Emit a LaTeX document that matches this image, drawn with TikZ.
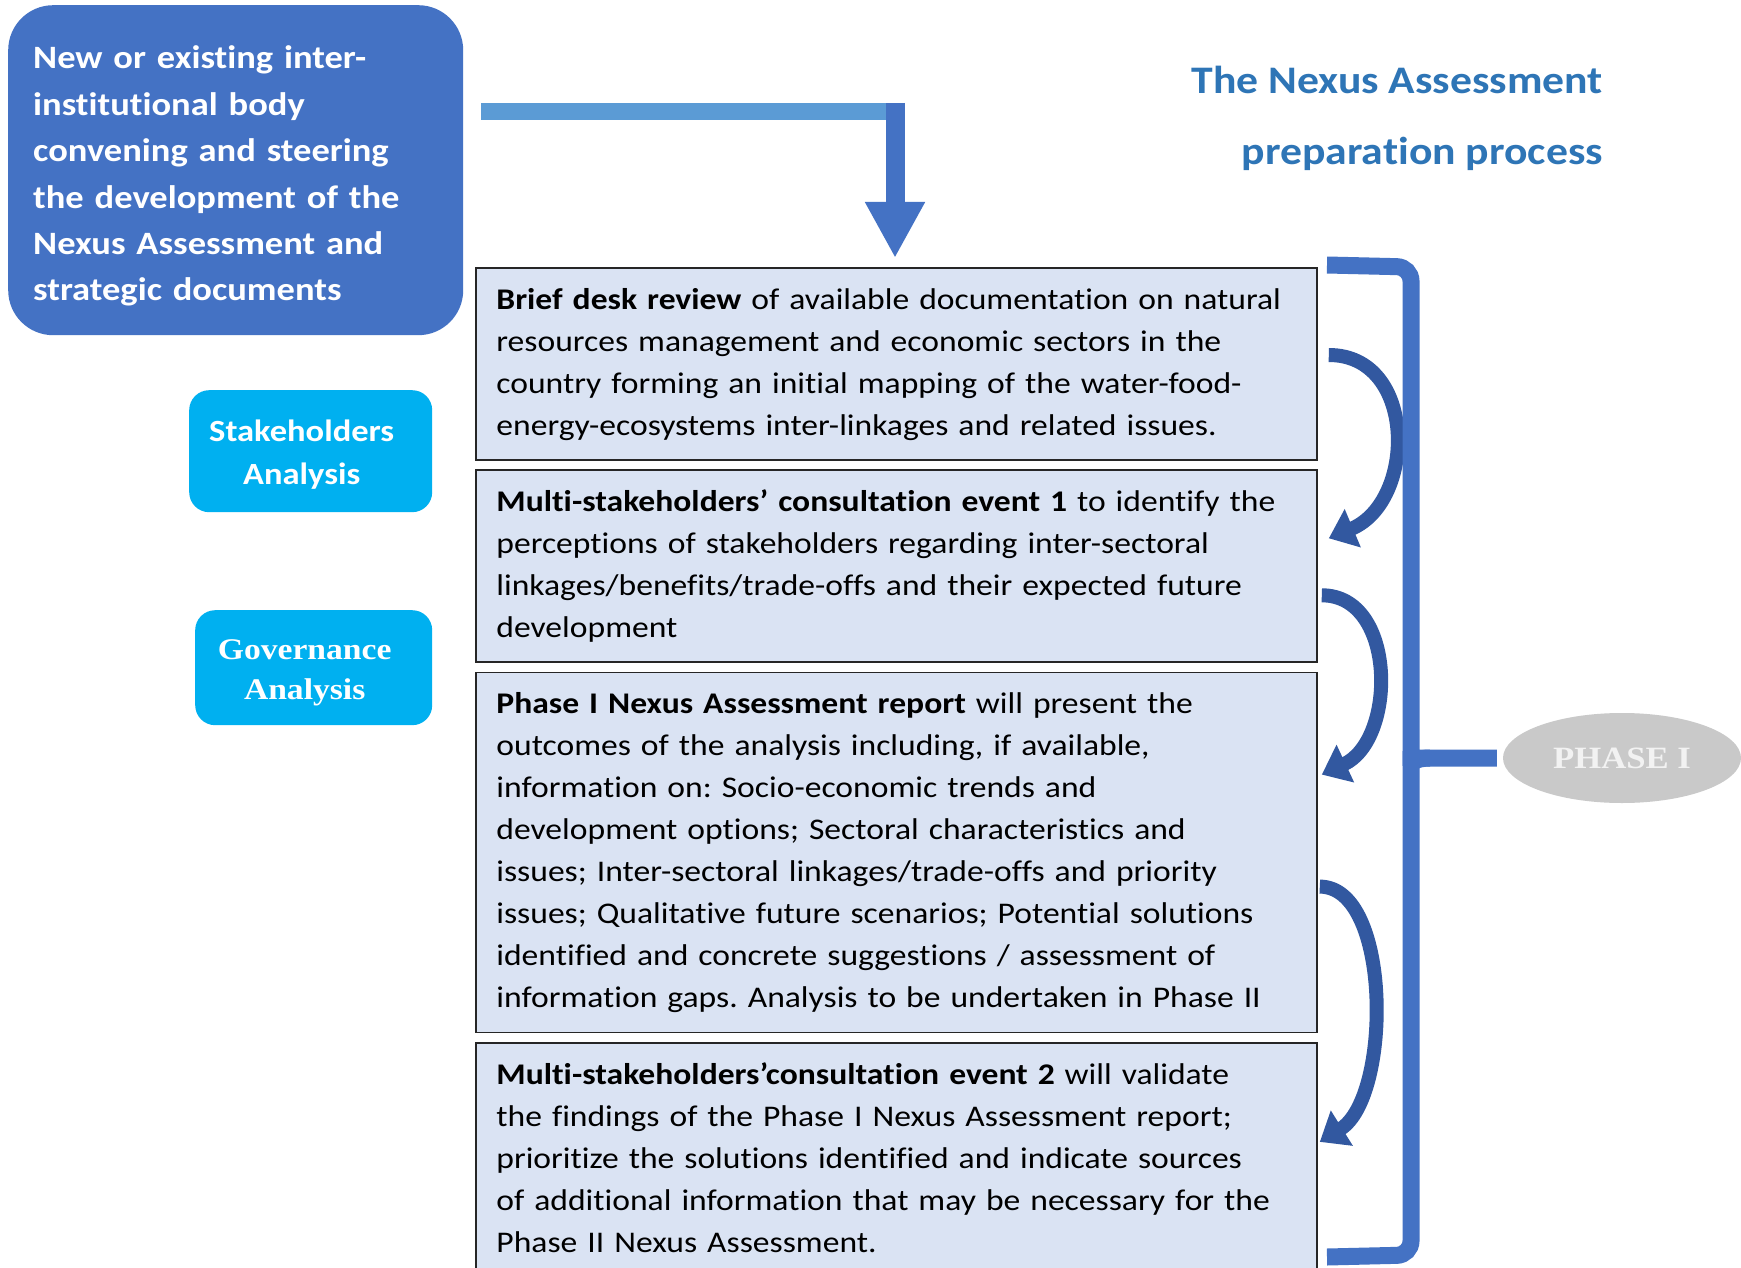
\documentclass[tikz,border=0pt]{standalone}
\usepackage{fontspec}
\setmainfont{Carlito}[FakeStretch=1.12, Ligatures=NoCommon]
\newfontfamily\govfont{Liberation Serif}[FakeStretch=1.12]
\usetikzlibrary{positioning,shapes.geometric,arrows.meta,calc}
\definecolor{instblue}{RGB}{68,114,196}
\definecolor{feedblue}{RGB}{91,155,213}
\definecolor{loopblue}{RGB}{50,88,160}
\definecolor{skyblue}{RGB}{0,176,240}
\definecolor{boxfill}{RGB}{218,227,243}
\definecolor{titleblue}{RGB}{46,117,182}
\definecolor{phasegrey}{RGB}{201,201,201}
\frenchspacing
\begin{document}
\begin{tikzpicture}[x=1pt,y=-1pt]
      \tikzset{instbox/.style={fill=instblue, rounded corners=45pt, text=white, anchor=north west, align=left,
          text width=405pt, inner xsep=25pt, inner ysep=0pt, minimum height=330pt,
          font=\bfseries\fontsize{32.6}{46.4}\selectfont, execute at begin node={\rule{0pt}{43.5pt}}, execute at end node=\strut},
        analysisbox/.style={fill=skyblue, rounded corners=20pt, anchor=north west, inner sep=0pt},
        analysistext/.style={text=white, align=center, inner sep=0pt},
        stepbox/.style={draw=black!85, line width=1.8pt, fill=boxfill, anchor=north west, align=left,
          text width=800pt, inner xsep=20.5pt, inner ysep=12pt,
          font=\fontsize{30}{42}\selectfont, execute at begin node=\strut, execute at end node=\strut},
        titletext/.style={anchor=north east, align=right, inner sep=0pt, text=titleblue,
          font=\bfseries\fontsize{39}{71}\selectfont, execute at begin node=\strut},
        phasenode/.style={ellipse, fill=phasegrey, text={white!95!black}, minimum width=238pt, minimum height=90pt,
          inner sep=0pt, font=\govfont\bfseries\fontsize{31}{36}\selectfont},
        feedline/.style={draw=feedblue, line width=17pt},
        dropline/.style={draw=instblue, line width=19pt, -{Triangle[length=56pt,width=56pt]}, shorten >=9pt},
        loopline/.style={draw=loopblue, line width=14pt, -{Triangle[length=26pt,width=40pt]}},
        bracket/.style={draw=instblue, line width=17pt}}
      \useasboundingbox[fill=white] (0,0) rectangle (1741,1268);
%% Steering body and analyses
      \node[instbox] (inst) at (8,5) {New or existing inter-\\institutional body\\convening and steering\\the development of the\\Nexus Assessment and\\strategic documents};
      \node[analysisbox, minimum width=243pt, minimum height=122pt] (stake) at (189,390) {};
      \node[analysistext, font=\bfseries\fontsize{30.8}{43}\selectfont] (staketext) at ([xshift=-9pt,yshift=-3pt]stake.center) {Stakeholders\\Analysis};
      \node[analysisbox, minimum width=237pt, minimum height=115pt] (gov) at (195,610) {};
      \node[analysistext, font=\govfont\bfseries\fontsize{30}{40}\selectfont] (govtext) at ([xshift=-9pt,yshift=-5pt]gov.center) {Governance\\Analysis};
      \node[titletext] (title) at (1603,66) {The Nexus Assessment\\preparation process};
%% Steps
      \node[stepbox] (b1) at (475,267) {\textbf{Brief desk review} of available documentation on natural\\resources management and economic sectors in the\\country forming an initial mapping of the water-food-\\energy-ecosystems inter-linkages and related issues.};
      \node[stepbox, below=8.5pt of b1] (b2) {\textbf{Multi-stakeholders’ consultation event 1} to identify the\\perceptions of stakeholders regarding inter-sectoral\\linkages/benefits/trade-offs and their expected future\\development};
      \node[stepbox, below=8.5pt of b2] (b3) {\textbf{Phase I Nexus Assessment report} will present the\\outcomes of the analysis including, if available,\\information on: Socio-economic trends and\\development options; Sectoral characteristics and\\issues; Inter-sectoral linkages/trade-offs and priority\\issues; Qualitative future scenarios; Potential solutions\\identified and concrete suggestions / assessment of\\information gaps. Analysis to be undertaken in Phase II};
      \node[stepbox, below=8.5pt of b3] (b4) {\textbf{Multi-stakeholders’consultation event 2} will validate\\the findings of the Phase I Nexus Assessment report;\\prioritize the solutions identified and indicate sources\\of additional information that may be necessary for the\\Phase II Nexus Assessment.};
      \node[phasenode] (phase) at (1622,758) {PHASE I};
%% Arrows
      \coordinate (feedstart) at (481,112);
      \coordinate (turn) at (895,112);
      \draw[feedline] (feedstart) -- (turn);
      \draw[dropline] ([yshift=9pt]turn) -- (turn |- b1.north);
      \draw[loopline] ($(b1.north east)+(11,88)$) .. controls +(88,0) and +(88,-37) .. ($(b2.north east)+(11,69)$);
      \draw[loopline] ($(b2.north east)+(4,126)$) .. controls +(75,0) and +(75,-35) .. ($(b3.north east)+(4,103)$);
      \draw[loopline] ($(b3.north east)+(2,215)$) .. controls +(72,0) and +(72,-45) .. ($(b4.north east)+(2,100)$);
%% Bracket
      \draw[bracket, rounded corners=14pt, shorten >=6pt] (1327,265) -- (1411,267) -- (1411,740) .. controls (1411,752) and (1415,758) .. (1430,758) -- (phase.west);
      \draw[bracket, rounded corners=14pt] (1327,1257) -- (1411,1255) -- (1411,776) .. controls (1411,764) and (1415,758) .. (1430,758);
\end{tikzpicture}
\end{document}
